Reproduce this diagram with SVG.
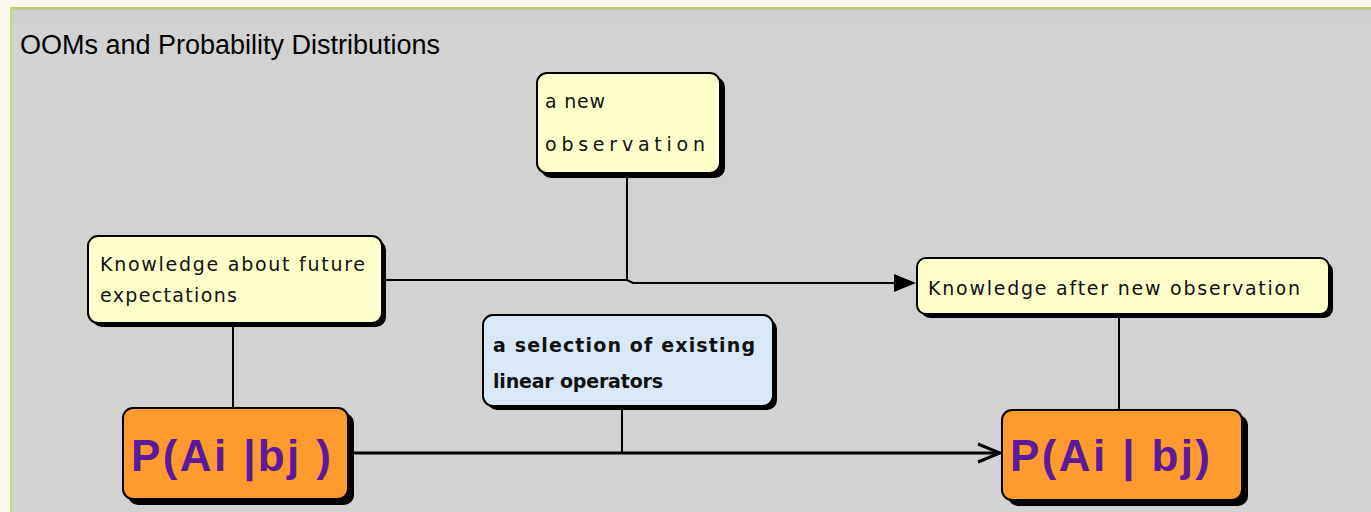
<svg xmlns="http://www.w3.org/2000/svg" width="1371" height="512" viewBox="0 0 1371 512">
<defs>
<style>
.box{stroke:#000;stroke-width:2}
.sh{fill:#000}
.t{font-family:"DejaVu Sans","Liberation Sans",Arial,sans-serif;font-size:19px;fill:#111}
.p{font-family:"Liberation Sans",Arial,sans-serif;font-size:44px;font-weight:bold;fill:#5a1a9a}
.c{stroke:#000;stroke-width:2;fill:none}
.c3{stroke:#000;stroke-width:3;fill:none}
</style>
<marker id="tri" markerWidth="22" markerHeight="18" refX="20" refY="9" orient="auto" markerUnits="userSpaceOnUse">
<path d="M0,0 L22,9 L0,18 Z" fill="#000"/>
</marker>
<marker id="open" markerWidth="26" markerHeight="22" refX="24" refY="11" orient="auto" markerUnits="userSpaceOnUse">
<path d="M2,2 L24,11 L2,20" fill="none" stroke="#000" stroke-width="3"/>
</marker>
</defs>
<rect x="0" y="0" width="1371" height="512" fill="#fffaee"/>
<rect x="10" y="7" width="1361" height="505" fill="#d2d2d2"/>
<rect x="10" y="7" width="1361" height="3" fill="#bccf84"/>
<rect x="10" y="7" width="3" height="505" fill="#c6d890"/>
<rect x="13" y="10" width="1358" height="8" fill="#cfcfd4"/>
<text x="20" y="54" font-family="Liberation Sans,Arial,sans-serif" font-size="27" fill="#000" textLength="420">OOMs and Probability Distributions</text>
<g id="connectors">
<path class="c" d="M627,175 V280"/>
<path class="c" d="M382,280 H627 L633,283 H914" marker-end="url(#tri)"/>
<path class="c" d="M233,325 V410"/>
<path class="c" d="M1119,317 V412"/>
<path class="c" d="M622,408 V453"/>
<path class="c3" d="M353,453 H1000" marker-end="url(#open)"/>
</g>
<g id="n-observation">
<rect class="sh" x="541" y="77" width="184" height="101" rx="10"/>
<rect class="box" x="537" y="73" width="183" height="100" rx="10" fill="#ffffcc"/>
<text class="t" x="545" y="108" textLength="60" font-size="21">a new</text>
<text class="t" x="545" y="151" textLength="160" font-size="21">observation</text>
</g>
<g id="n-knowledge">
<rect class="sh" x="92" y="240" width="294" height="87" rx="10"/>
<rect class="box" x="88" y="236" width="294" height="87" rx="10" fill="#ffffcc"/>
<text class="t" x="100" y="271" textLength="265">Knowledge about future</text>
<text class="t" x="100" y="302" textLength="137">expectations</text>
</g>
<g id="n-after">
<rect class="sh" x="921" y="262" width="412" height="56" rx="9"/>
<rect class="box" x="917" y="258" width="412" height="56" rx="9" fill="#ffffcc"/>
<text class="t" x="928" y="295" textLength="372">Knowledge after new observation</text>
</g>
<g id="n-selection">
<rect class="sh" x="487" y="319" width="290" height="91" rx="10"/>
<rect class="box" x="483" y="315" width="290" height="91" rx="10" fill="#d8e8f6"/>
<text class="t" x="493" y="352" textLength="262" font-weight="bold">a selection of existing</text>
<text class="t" x="493" y="388" textLength="170" font-weight="bold">linear operators</text>
</g>
<g id="n-p-left">
<rect class="sh" x="128" y="413" width="226" height="92" rx="10"/>
<rect class="box" x="123" y="408" width="225" height="91" rx="10" fill="#ff9a2e"/>
<text class="p" x="131" y="471" textLength="200">P(Ai |bj )</text>
</g>
<g id="n-p-right">
<rect class="sh" x="1008" y="415" width="240" height="91" rx="10"/>
<rect class="box" x="1002" y="410" width="240" height="90" rx="10" fill="#ff9a2e"/>
<text class="p" x="1010" y="471" textLength="200">P(Ai | bj)</text>
</g>
</svg>
